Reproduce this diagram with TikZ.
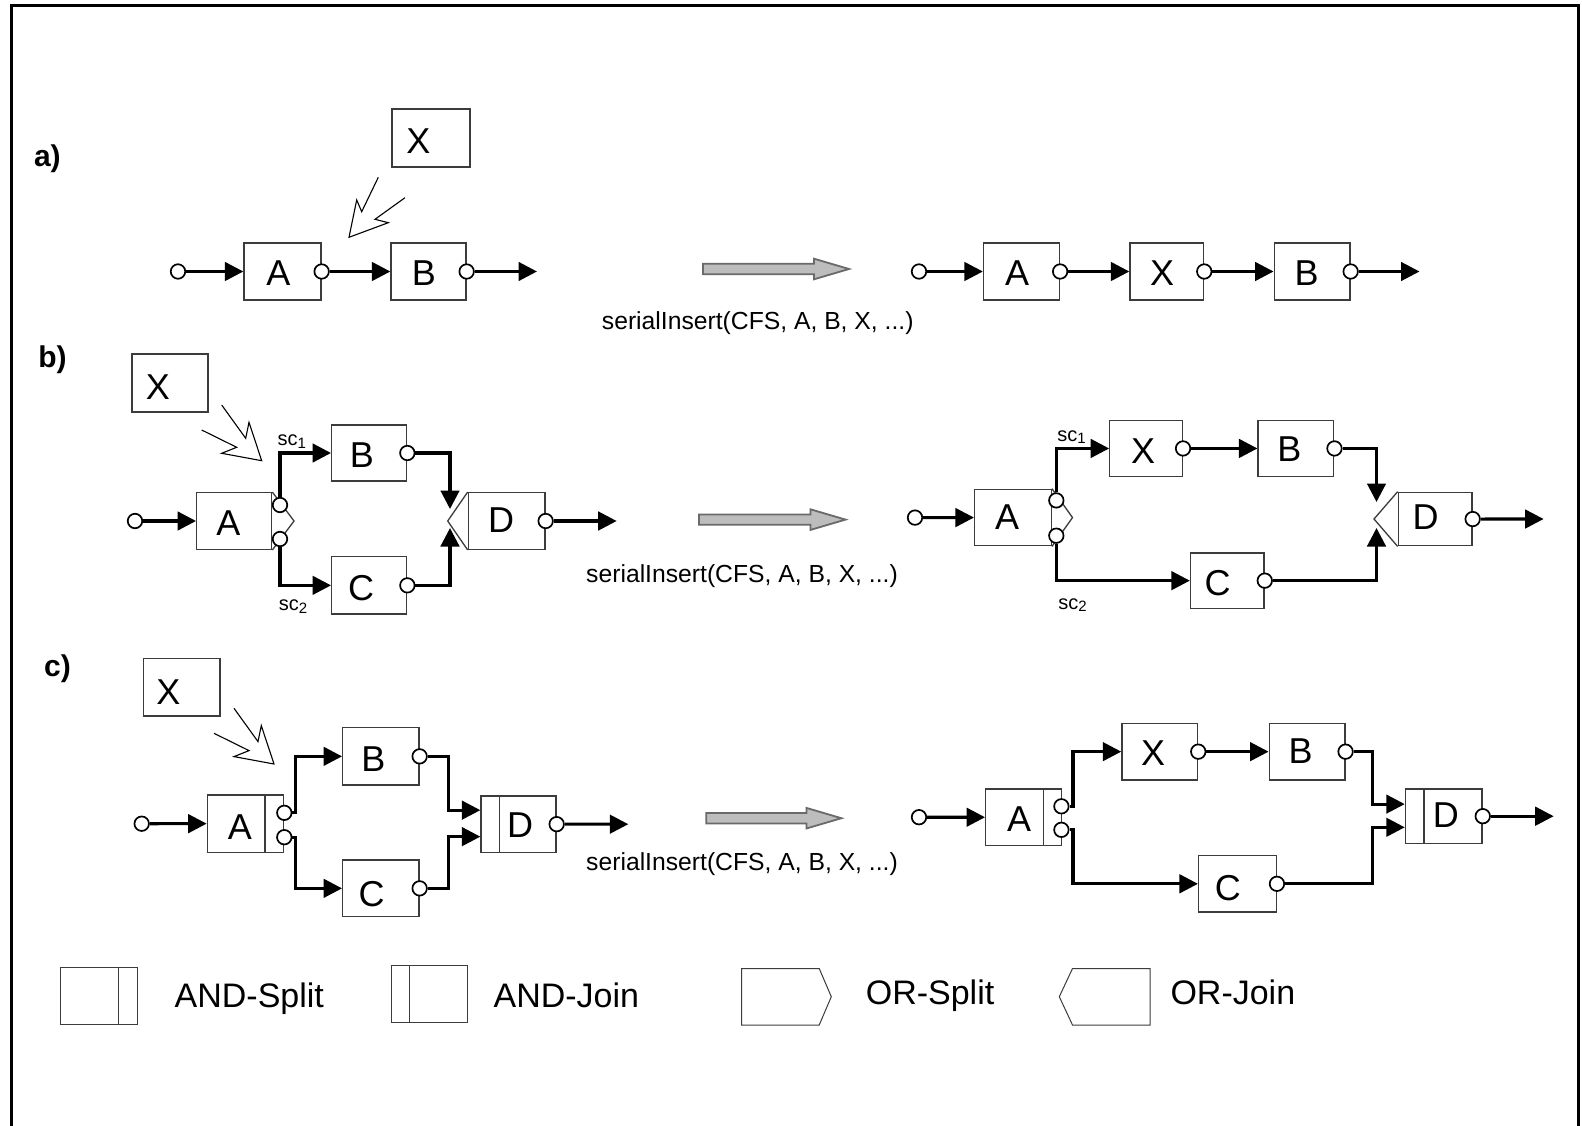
\documentclass[tikz,border=0pt]{standalone}
\usepackage{fontspec}
\setmainfont{Liberation Sans}
\usetikzlibrary{arrows.meta,fit,calc}
\definecolor{boxgray}{HTML}{3C3C3C}
\definecolor{bigfill}{HTML}{BDBDBD}
\definecolor{bigdraw}{HTML}{6A6A6A}
\newcommand\bx[5]{\node[box, fit={(#2,#3)(#4,#5)}] (#1) {};}
\newcommand\bigarrow[3]{\draw[bigar] (#1,#3-5.2) -- (#2-35,#3-5.2) -- (#2-35,#3-10.3) -- (#2,#3) -- (#2-35,#3+10.3) -- (#2-35,#3+5.2) -- (#1,#3+5.2) -- cycle;}
\newcommand\zigzag[2]{\draw[zig, shift={(#1,#2)}] (-40,-55.7) -- (-16,-22.4) -- (-12.7,-38.4) -- (0,0) -- (-40,-7.4) -- (-25,-13.4) -- (-60,-30.7);}
\tikzset{
 box/.style={draw=boxgray, line width=1.3pt, inner sep=0pt, fill=white},
 thinline/.style={draw=boxgray, line width=1.3pt},
 port/.style={circle, draw=black, line width=1.7pt, fill=white, minimum size=14.5pt, inner sep=0pt},
 flow/.style={line width=3.1pt, -{Triangle[length=18.5pt,width=18.5pt]}},
 zig/.style={line width=1.1pt, line join=miter},
 bigar/.style={fill=bigfill, draw=bigdraw, line width=1.8pt},
 lbl/.style={font=\fontsize{36}{42}\selectfont, inner sep=0pt},
 fnlabel/.style={font=\fontsize{24.7}{30}\selectfont, inner sep=0pt},
 sclabel/.style={font=\fontsize{20}{24}\selectfont, inner sep=0pt},
 partlabel/.style={font=\bfseries\fontsize{30}{36}\selectfont, inner sep=0pt},
 legendtext/.style={font=\fontsize{34}{40}\selectfont, inner sep=0pt, anchor=base west},
}
\newcommand\subone[1]{{\fontsize{15}{17}\selectfont\raisebox{-2.5pt}{#1}}}
\begin{document}
\begin{tikzpicture}[x=1pt,y=-1pt]
\useasboundingbox (0,0) rectangle (1582,1126);
\fill[white] (0,0) rectangle (1582,1126);
\draw[line width=3pt] (11,1130) -- (11,6) -- (1578,6) -- (1578,1130);

% ---------------- a) left
\node[partlabel] (la) at (47.4,158.4) {a)};
\bx{aX}{392}{109}{470}{167}
\node[lbl] (aXt) at (418.3,141.5) {X};
\draw[zig] (378.3,177.3) -- (361.7,211.7) -- (356.7,200) -- (349,237.3) -- (388.3,222.7) -- (375,219.3) -- (405,197.7);
\bx{aA}{244}{243}{321}{300}
\node[lbl] (aAt) at (278.3,273) {A};
\bx{aB}{391}{243}{466}{300}
\node[lbl] (aBt) at (424,273) {B};
\node[port] (aIn) at (178,271.5) {};
\node[port] (aAo) at (aA.east) {};
\node[port] (aBo) at (aB.east) {};
\coordinate (aEnd) at (537,271.5);
\draw[flow] (aIn.east) -- (aA.west);
\draw[flow] (aAo.east) -- (aB.west);
\draw[flow] (aBo.east) -- (aEnd);
\bigarrow{703}{849}{269}
\node[fnlabel] (aOp) at (757.7,322.8) {serialInsert(CFS, A, B, X, ...)};

% ---------------- a) right
\bx{arA}{983.5}{243}{1059.5}{300}
\node[lbl] (arAt) at (1017,273) {A};
\bx{arX}{1130}{243}{1203.6}{300}
\node[lbl] (arXt) at (1162.2,273) {X};
\bx{arB}{1274.2}{243}{1350}{300}
\node[lbl] (arBt) at (1306.5,273) {B};
\node[port] (arIn) at (919,271.5) {};
\node[port] (arAo) at (arA.east) {};
\node[port] (arXo) at (arX.east) {};
\node[port] (arBo) at (arB.east) {};
\coordinate (arEnd) at (1419.5,271.5);
\draw[flow] (arIn.east) -- (arA.west);
\draw[flow] (arAo.east) -- (arX.west);
\draw[flow] (arXo.east) -- (arB.west);
\draw[flow] (arBo.east) -- (arEnd);

% ---------------- b) left
\node[partlabel] (lb) at (52.5,360.2) {b)};
\bx{bX}{132}{354}{208}{412}
\node[lbl] (bXt) at (158,387) {X};
\zigzag{261.7}{460.7}
\bx{bA}{196.7}{492.7}{271.7}{549.3}
\draw[thinline] (bA.north east) -- (294,521) -- (bA.south east);
\node[lbl] (bAt) at (228.3,522.7) {A};
\bx{bB}{331.7}{425}{406.7}{481}
\node[lbl] (bBt) at (362,455) {B};
\bx{bC}{331.7}{556.7}{406.7}{614}
\node[lbl] (bCt) at (361,588) {C};
\bx{bD}{468.3}{492.7}{545}{549.3}
\draw[thinline] (bD.north west) -- (447.7,521) -- (bD.south west);
\node[lbl] (bDt) at (501,520.5) {D};
\node[port] (bIn) at (135,521) {};
\node[port] (bAo1) at (280,505) {};
\node[port] (bAo2) at (280,539) {};
\node[port] (bBo) at (bB.east) {};
\node[port] (bCo) at (bC.east) {};
\node[port] (bDo) at (bD.east) {};
\coordinate (bDin1) at (450,509);
\coordinate (bDin2) at (450,528);
\coordinate (bEnd) at (616.7,521);
\draw[flow] (bIn.east) -- (bA.west);
\draw[flow] (bAo1.north) |- (bB.west);
\draw[flow] (bAo2.south) |- (bC.west);
\draw[flow] (bBo.east) -| (bDin1);
\draw[flow] (bCo.east) -| (bDin2);
\draw[flow] (bDo.east) -- (bEnd);
\node[sclabel] (bsc1) at (291.7,441.5) {sc\subone{1}};
\node[sclabel] (bsc2) at (293,606.7) {sc\subone{2}};
\bigarrow{699}{845.5}{519.6}
\node[fnlabel] (bOp) at (742,576) {serialInsert(CFS, A, B, X, ...)};

% ---------------- b) right
\bx{brA}{974.6}{489.3}{1051.3}{545.8}
\draw[thinline] (brA.north east) -- (1072.5,517.6) -- (brA.south east);
\node[lbl] (brAt) at (1007,517.6) {A};
\bx{brX}{1109.8}{420.2}{1182.4}{476.7}
\node[lbl] (brXt) at (1143,451) {X};
\bx{brB}{1258.1}{420.2}{1333.8}{476.7}
\node[lbl] (brBt) at (1289.4,449) {B};
\bx{brC}{1190.5}{552.9}{1264.1}{608.4}
\node[lbl] (brCt) at (1217.7,583.2) {C};
\bx{brD}{1398.3}{492.3}{1472}{545.8}
\draw[thinline] (brD.north west) -- (1374,519) -- (brD.south west);
\node[lbl] (brDt) at (1425.6,517) {D};
\node[port] (brIn) at (915,517.6) {};
\node[port] (brAo1) at (1056.3,500.4) {};
\node[port] (brAo2) at (1056.3,535.7) {};
\node[port] (brXo) at (brX.east) {};
\node[port] (brBo) at (brB.east) {};
\node[port] (brCo) at (brC.east) {};
\node[port] (brDo) at (brD.east) {};
\coordinate (brDin1) at (1376.5,502);
\coordinate (brDin2) at (1376.5,528);
\coordinate (brEnd) at (1543.6,519);
\draw[flow] (brIn.east) -- (brA.west);
\draw[flow] (brAo1.north) |- (brX.west);
\draw[flow] (brAo2.south) |- (brC.west);
\draw[flow] (brXo.east) -- (brB.west);
\draw[flow] (brBo.east) -| (brDin1);
\draw[flow] (brCo.east) -| (brDin2);
\draw[flow] (brDo.east) -- (brEnd);
\node[sclabel] (brsc1) at (1071.5,437) {sc\subone{1}};
\node[sclabel] (brsc2) at (1072.5,605.3) {sc\subone{2}};

% ---------------- c) left
\node[partlabel] (lc) at (57.5,669) {c)};
\bx{cX}{143.3}{658.3}{220}{716}
\node[lbl] (cXt) at (168.3,691.7) {X};
\zigzag{274}{764}
\bx{cA}{207.3}{795}{283.3}{852.3}
\draw[thinline] ($(cA.north west)+(58.4,0)$) -- ($(cA.south west)+(58.4,0)$);
\node[lbl] (cAt) at (240,826.7) {A};
\bx{cB}{342.7}{727.7}{419}{785}
\node[lbl] (cBt) at (373.3,759) {B};
\bx{cC}{342.7}{860}{419}{916.7}
\node[lbl] (cCt) at (371.5,894) {C};
\bx{cD}{481}{796}{556}{852.3}
\draw[thinline] ($(cD.north west)+(19,0)$) -- ($(cD.south west)+(19,0)$);
\node[lbl] (cDt) at (520,825) {D};
\node[port] (cIn) at (141.7,823.7) {};
\node[port] (cAo1) at (284.3,812.8) {};
\node[port] (cAo2) at (284.3,837.2) {};
\node[port] (cBo) at (cB.east) {};
\node[port] (cCo) at (cC.east) {};
\node[port] (cDo) at (cD.east) {};
\coordinate (cDin1) at ($(cD.west)+(0,-14)$);
\coordinate (cDin2) at ($(cD.west)+(0,12.5)$);
\coordinate (cEnd) at (628.3,824.2);
\draw[flow] (cIn.east) -- (cA.west);
\draw[flow] (cAo1.east) -- ++(3.5,0) |- (cB.west);
\draw[flow] (cAo2.east) -- ++(3.5,0) |- (cC.west);
\draw[flow] (cBo.east) -| ($(cDin1)+(-31.7,0)$) -- (cDin1);
\draw[flow] (cCo.east) -| ($(cDin2)+(-31.7,0)$) -- (cDin2);
\draw[flow] (cDo.east) -- (cEnd);
\bigarrow{706.2}{841.4}{818.2}
\node[fnlabel] (cOp) at (742,864.6) {serialInsert(CFS, A, B, X, ...)};

% ---------------- c) right
\bx{crA}{985.7}{789}{1061.4}{845.5}
\draw[thinline] ($(crA.north west)+(58.3,0)$) -- ($(crA.south west)+(58.3,0)$);
\node[lbl] (crAt) at (1019,819.2) {A};
\bx{crX}{1121.9}{723.4}{1197.6}{779.9}
\node[lbl] (crXt) at (1153.2,753.5) {X};
\bx{crB}{1269.2}{723.4}{1344.9}{779.9}
\node[lbl] (crBt) at (1300.5,751.6) {B};
\bx{crC}{1198.6}{855.5}{1276.3}{912.1}
\node[lbl] (crCt) at (1227.8,887.8) {C};
\bx{crD}{1405.4}{789}{1482.1}{843.4}
\draw[thinline] ($(crD.north west)+(19.2,0)$) -- ($(crD.south west)+(19.2,0)$);
\node[lbl] (crDt) at (1445.8,815.2) {D};
\node[port] (crIn) at (919,817.2) {};
\node[port] (crAo1) at (1061.4,806.3) {};
\node[port] (crAo2) at (1061.4,829.8) {};
\node[port] (crXo) at (crX.east) {};
\node[port] (crBo) at (crB.east) {};
\node[port] (crCo) at (crC.east) {};
\node[port] (crDo) at (crD.east) {};
\coordinate (crDin1) at ($(crD.west)+(0,-12.1)$);
\coordinate (crDin2) at ($(crD.west)+(0,11.1)$);
\coordinate (crEnd) at (1553.7,816.2);
\draw[flow] (crIn.east) -- (crA.west);
\draw[flow] (crAo1.east) -- ++(3.5,0) |- (crX.west);
\draw[flow] (crAo2.east) -- ++(3.5,0) |- (crC.west);
\draw[flow] (crXo.east) -- (crB.west);
\draw[flow] (crBo.east) -| ($(crDin1)+(-32.3,0)$) -- (crDin1);
\draw[flow] (crCo.east) -| ($(crDin2)+(-32.3,0)$) -- (crDin2);
\draw[flow] (crDo.east) -- (crEnd);

% ---------------- legend
\begin{scope}[box/.append style={line width=1pt}, thinline/.append style={line width=1pt}]
\bx{lgAS}{60.5}{967.5}{137.2}{1024}
\draw[thinline] ($(lgAS.north west)+(58.5,0)$) -- ($(lgAS.south west)+(58.5,0)$);
\node[legendtext] (lgASt) at (174.5,1007) {AND-Split};
\bx{lgAJ}{391.5}{965.5}{467.1}{1022}
\draw[thinline] ($(lgAJ.north west)+(18.1,0)$) -- ($(lgAJ.south west)+(18.1,0)$);
\node[legendtext] (lgAJt) at (493.4,1007) {AND-Join};
\draw[thinline] (741.5,968.5) -- (819.2,968.5) -- (831.3,996.7) -- (819.2,1025) -- (741.5,1025) -- cycle;
\node[legendtext] (lgOSt) at (865.6,1004) {OR-Split};
\draw[thinline] (1150.1,968.5) -- (1072.5,968.5) -- (1059.3,996.7) -- (1072.5,1025) -- (1150.1,1025) -- cycle;
\node[legendtext] (lgOJt) at (1170.3,1004) {OR-Join};
\end{scope}
\end{tikzpicture}
\end{document}
